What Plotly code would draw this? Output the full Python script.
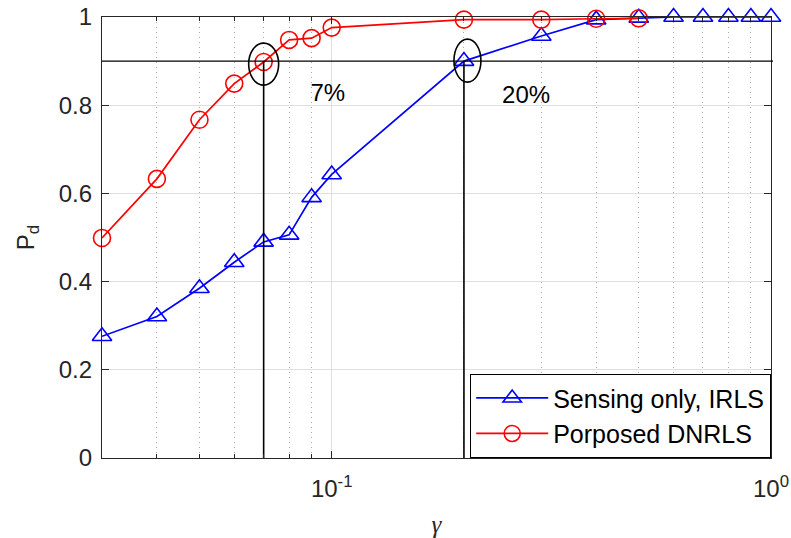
import numpy as np
import plotly.graph_objects as go

# Detection probability versus gamma for the two detectors
gamma_irls = [0.03, 0.04, 0.05, 0.06, 0.07, 0.08, 0.09, 0.1, 0.2, 0.3, 0.4, 0.5,
              0.6, 0.7, 0.8, 0.9, 1.0]
pd_irls = [0.276, 0.321, 0.385, 0.444, 0.490, 0.506, 0.591, 0.643, 0.900, 0.957,
           0.994, 0.998, 1.0, 1.0, 1.0, 1.0, 1.0]

gamma_dnrls = [0.03, 0.04, 0.05, 0.06, 0.07, 0.08, 0.09, 0.1, 0.2, 0.3, 0.4, 0.5]
pd_dnrls = [0.499, 0.633, 0.767, 0.849, 0.898, 0.948, 0.952, 0.976, 0.994, 0.994,
            0.996, 0.997]

# Target detection level and the gamma each method needs to reach it
pd_target = 0.9
gamma_at_target = [0.07, 0.2]
target_labels = ["7%", "20%"]

# Axis ticks
x_tickvals = [0.1, 1.0]
x_ticktext = ["10<sup>-1</sup>", "10<sup>0</sup>"]
x_minorvals = [0.04, 0.05, 0.06, 0.07, 0.08, 0.09, 0.2, 0.3, 0.4, 0.5, 0.6, 0.7, 0.8, 0.9]
y_tickvals = [0, 0.2, 0.4, 0.6, 0.8, 1.0]
y_ticktext = ["0", "0.2", "0.4", "0.6", "0.8", "1"]

FONT = "Liberation Sans, Arial, sans-serif"
AXIS_COLOR = "#262626"

W, H = 791, 538
M = dict(l=102, r=20, t=17, b=80)
PLOT_W = W - M["l"] - M["r"]
PLOT_H = H - M["t"] - M["b"]
X_LOG_RANGE = [np.log10(0.03), 0.0]
Y_RANGE = [0.0, 1.0]

fig = go.Figure()

fig.add_trace(go.Scatter(
    x=gamma_irls, y=pd_irls, mode="lines+markers", name="Sensing only, IRLS",
    line=dict(color="#0000ff", width=1.7),
    marker=dict(symbol="triangle-up-open", size=17, color="#0000ff",
                line=dict(width=1.6, color="#0000ff")),
    cliponaxis=False,
))
fig.add_trace(go.Scatter(
    x=gamma_dnrls, y=pd_dnrls, mode="lines+markers", name="Porposed DNRLS",
    line=dict(color="#ff0000", width=1.7),
    marker=dict(symbol="circle-open", size=17, color="#ff0000",
                line=dict(width=1.6, color="#ff0000")),
    cliponaxis=False,
))

# Vertical drop lines from the target level to the gamma axis
for g in gamma_at_target:
    fig.add_trace(go.Scatter(
        x=[g, g], y=[0, pd_target], mode="lines", showlegend=False,
        line=dict(color="black", width=1.6), hoverinfo="skip",
    ))

# Percentage labels next to each crossing
fig.add_trace(go.Scatter(
    x=[0.098, 0.277], y=[0.824, 0.818], mode="text", text=target_labels,
    textfont=dict(family=FONT, size=24, color="black"), showlegend=False,
    hoverinfo="skip",
))


def paper_x(g, dpx=0.0):
    frac = (np.log10(g) - X_LOG_RANGE[0]) / (X_LOG_RANGE[1] - X_LOG_RANGE[0])
    return frac + dpx / PLOT_W


def paper_y(v, dpx=0.0):
    frac = (v - Y_RANGE[0]) / (Y_RANGE[1] - Y_RANGE[0])
    return frac + dpx / PLOT_H


shapes = [
    # horizontal target line across the plot
    dict(type="line", xref="paper", x0=0, x1=1.003, yref="y", y0=pd_target, y1=pd_target,
         line=dict(color="black", width=1.3), layer="above"),
]
# ellipses circling the crossing points (pixel offsets from the crossing)
ellipse_offsets = [(-15, 15, -24, 18), (-10, 17, -21, 22)]
for g, (ex0, ex1, ey0, ey1) in zip(gamma_at_target, ellipse_offsets):
    shapes.append(dict(
        type="circle", xref="paper", yref="paper",
        x0=paper_x(g, ex0), x1=paper_x(g, ex1),
        y0=paper_y(pd_target, ey0), y1=paper_y(pd_target, ey1),
        line=dict(color="black", width=1.6), layer="above",
    ))

fig.update_layout(
    width=W, height=H,
    margin=M,
    paper_bgcolor="white", plot_bgcolor="white",
    font=dict(family=FONT, size=24, color=AXIS_COLOR),
    shapes=shapes,
    showlegend=True,
    legend=dict(
        x=1, y=0, xanchor="right", yanchor="bottom",
        bgcolor="white", bordercolor="black", borderwidth=1.2,
        font=dict(family=FONT, size=25, color="black"),
        itemwidth=72, tracegroupgap=0,
    ),
    xaxis=dict(
        type="log", range=X_LOG_RANGE, automargin=False,
        tickmode="array", tickvals=x_tickvals, ticktext=x_ticktext,
        ticks="inside", ticklen=7, tickwidth=1, tickcolor=AXIS_COLOR,
        ticklabelstandoff=9,
        showline=True, linecolor=AXIS_COLOR, linewidth=1.3, mirror="ticks",
        showgrid=True, gridcolor="#dfdfdf", gridwidth=1, zeroline=False,
        minor=dict(tickvals=x_minorvals, ticks="inside", ticklen=4,
                   tickcolor=AXIS_COLOR, showgrid=True, griddash="1px,4px",
                   gridcolor="#a8a8a8", gridwidth=1),
        tickfont=dict(family=FONT, size=24, color=AXIS_COLOR),
        title=dict(text="γ", standoff=14,
                   font=dict(family="Liberation Serif, Times New Roman, serif",
                             size=25, color=AXIS_COLOR, style="italic")),
    ),
    yaxis=dict(
        range=Y_RANGE, automargin=False,
        tickmode="array", tickvals=y_tickvals, ticktext=y_ticktext,
        ticks="inside", ticklen=7, tickwidth=1, tickcolor=AXIS_COLOR,
        ticklabelstandoff=4,
        showline=True, linecolor=AXIS_COLOR, linewidth=1.3, mirror="ticks",
        showgrid=True, gridcolor="#dfdfdf", gridwidth=1, zeroline=False,
        tickfont=dict(family=FONT, size=24, color=AXIS_COLOR),
        title=dict(text="P<sub>d</sub>", standoff=17,
                   font=dict(family=FONT, size=24, color=AXIS_COLOR)),
    ),
)

fig.write_html("out.html")
